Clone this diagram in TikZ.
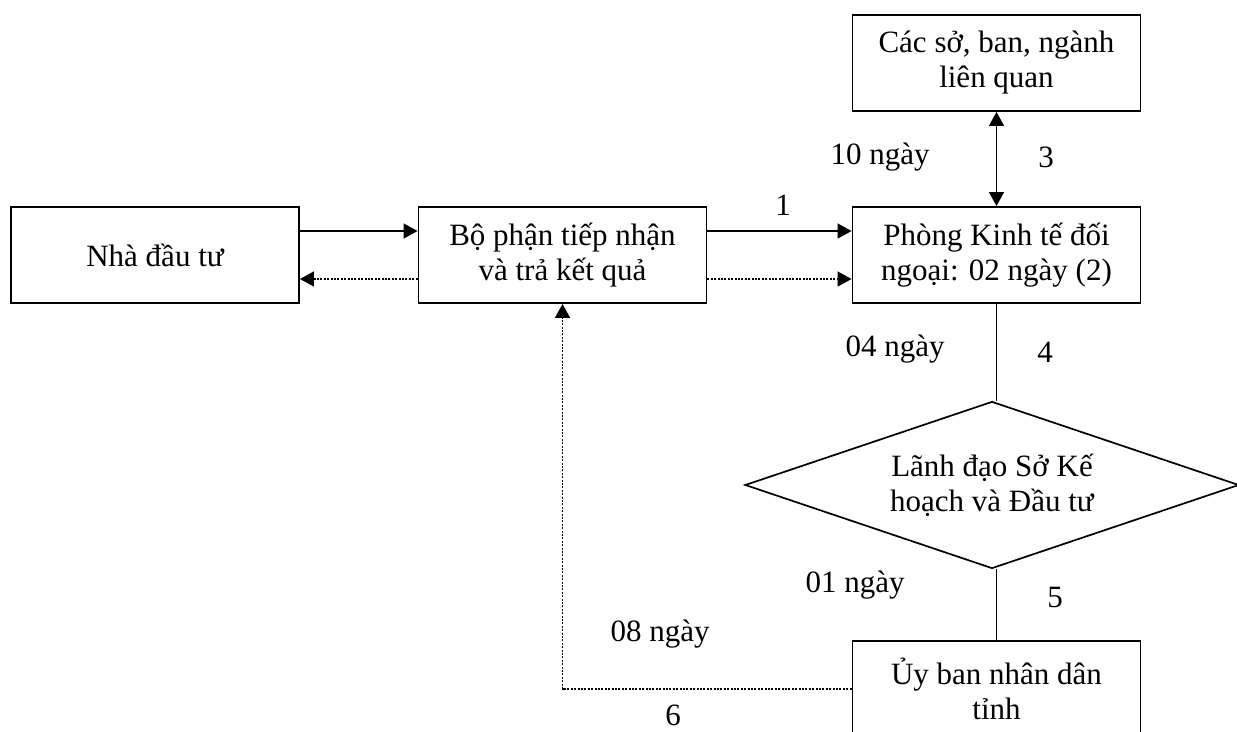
\documentclass[tikz,border=0pt]{standalone}
\usepackage{fontspec}
\setmainfont{Liberation Serif}
\usetikzlibrary{arrows.meta,shapes.geometric}
\begin{document}
\begin{tikzpicture}[x=1pt,y=-1pt,
  txt/.style={font=\fontsize{31}{35}\selectfont},
  box/.style={txt,draw,line width=1.9pt,minimum width=288pt,minimum height=96pt,
    inner sep=0pt,align=center},
  decision/.style={txt,draw,diamond,aspect=2.96,line width=1.7pt,minimum width=494pt,
    minimum height=167pt,inner sep=0pt,align=center},
  tip/.style={-{Triangle[length=14pt,width=15pt]}},
  flow/.style={tip,line width=1.4pt},
  back/.style={tip,line width=1.4pt,dash pattern=on 2pt off 1.4pt},
  link/.style={line width=1.5pt},
  lbl/.style={txt,inner sep=0pt}]
\useasboundingbox (0,0) rectangle (1237,731);
\clip (0,0) rectangle (1237,731);

% boxes
\node[box] (nha)    at (155,255)   {Nhà đầu tư};
\node[box] (bophan) at (562.5,255) {Bộ phận tiếp nhận\\và trả kết quả};
\node[box] (phong)  at (996.5,255) {Phòng Kinh tế đối\\ngoại: 02 ngày (2)};
\node[box] (cacso)  at (996.5,63)  {Các sở, ban, ngành\\liên quan};
\node[decision] (lanhdao) at (992,485) {Lãnh đạo Sở Kế\\hoạch và Đầu tư};
\node[box] (uyban)  at (996.5,689) {Ủy ban nhân dân\\tỉnh};

% connectors
\draw[flow] ([yshift=24pt]nha.east) -- ([yshift=24pt]bophan.west);
\draw[back] ([yshift=-24pt]bophan.west) -- ([yshift=-24pt]nha.east);
\draw[flow] ([yshift=24pt]bophan.east) -- ([yshift=24pt]phong.west);
\draw[back] ([yshift=-24pt]bophan.east) -- ([yshift=-24pt]phong.west);
\draw[line width=1.4pt,{Triangle[length=14pt,width=15pt]}-{Triangle[length=14pt,width=15pt]}]
  (cacso.south) -- (phong.north);
\draw[link] (phong.south) -- (phong.south |- lanhdao.north);
\draw[link] (uyban.north |- lanhdao.south) -- (uyban.north);
\draw[back] (uyban.west) -| (bophan.south);

% labels
\node[lbl] at (783,205) {1};
\node[lbl] at (880,157) {10 ngày};
\node[lbl] at (1046,157) {3};
\node[lbl] at (895,349) {04 ngày};
\node[lbl] at (1045,352) {4};
\node[lbl] at (855,585) {01 ngày};
\node[lbl] at (1055,597) {5};
\node[lbl] at (660,634) {08 ngày};
\node[lbl] at (673,715) {6};
\end{tikzpicture}
\end{document}
